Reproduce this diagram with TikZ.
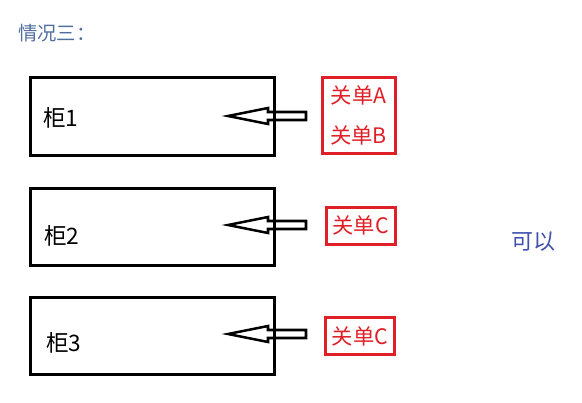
\documentclass[tikz,border=0pt]{standalone}
\usepackage{fontspec}
\setmainfont{Noto Sans CJK SC}
\usetikzlibrary{calc}
\definecolor{titelblau}{RGB}{79,110,160}
\definecolor{okblau}{RGB}{64,80,176}
\definecolor{danrot}{RGB}{224,32,40}
\tikzset{
    gui/.style={draw, line width=2.25pt, minimum width=183pt, minimum height=57.75pt},
    guitext/.style={anchor=west, inner sep=0pt, font=\fontsize{17}{20}\selectfont},
    dan/.style={draw=danrot, line width=2.25pt, text=danrot, align=center, inner sep=0pt,
        font=\fontsize{16}{30}\selectfont},
    pfeil/.style={line width=1.9pt, line join=miter}
}
\begin{document}
\begin{tikzpicture}[x=0.75pt, y=-0.75pt]
     \useasboundingbox (0,0) rectangle (582,403);

     \node[anchor=west, inner sep=0pt, text=titelblau, font=\fontsize{14.5}{17}\selectfont] (titel) at (18,33) {情况三：};

     \node[gui] (g1) at (152,116.5) {};
     \node[gui] (g2) at (152,227) {};
     \node[gui] (g3) at (152,335.5) {};
     \node[guitext] (n1) at (43,118) {柜1};
     \node[guitext] (n2) at (44,236) {柜2};
     \node[guitext] (n3) at (46,343) {柜3};

     \node[dan, minimum width=54.75pt, minimum height=56.25pt] (d1) at (358.5,115.5) {关单A\\关单B};
     \node[dan, minimum width=51.75pt, minimum height=27.75pt] (d2) at (360.5,225.5) {关单C};
     \node[dan, minimum width=51.75pt, minimum height=27.75pt] (d3) at (360,336) {关单C};

     \node[text=okblau, inner sep=0pt, font=\fontsize{16.5}{19}\selectfont] (ok) at (533,242) {可以};

     \coordinate (t1) at (228,116);  \coordinate (w1) at (306,116);
     \coordinate (t2) at (228,225);  \coordinate (w2) at (306,225);
     \coordinate (t3) at (228,334);  \coordinate (w3) at (306,334);
     \foreach \i in {1,2,3}
        \draw[pfeil] ($(w\i)+(0,-4)$) -- ($(t\i)+(40,-4)$) -- ($(t\i)+(40,-8)$) -- (t\i)
            -- ($(t\i)+(40,8)$) -- ($(t\i)+(40,4)$) -- ($(w\i)+(0,4)$) -- cycle;
\end{tikzpicture}
\end{document}
